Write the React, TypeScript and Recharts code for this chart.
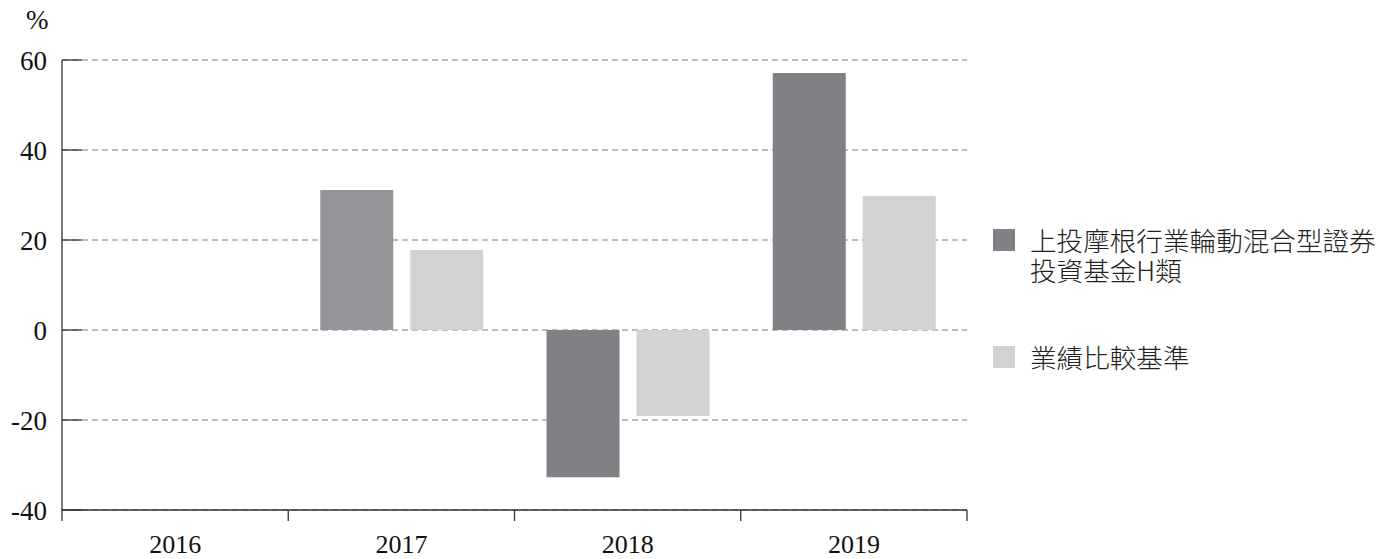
import React from 'react';
import {
  BarChart,
  Bar,
  Cell,
  XAxis,
  YAxis,
  CartesianGrid,
  Legend,
} from 'recharts';

const years = ['2016', '2017', '2018', '2019'];
const fundReturns = [null, 31.1, -32.7, 57.1];
const benchmarkReturns = [null, 17.8, -19.1, 29.8];
const yTicks = [-40, -20, 0, 20, 40, 60];

const FUND_NAME = '上投摩根行業輪動混合型證券投資基金H類';
const BENCH_NAME = '業績比較基準';

const W = 1391;
const H = 559;
const PLOT_LEFT = 62;
const PLOT_TOP = 60;
const PLOT_RIGHT = 967;
const PLOT_BOTTOM = 510;
const BAND = (PLOT_RIGHT - PLOT_LEFT) / years.length;

const FUND_COLOR = '#808184';
const FUND_COLOR_2017 = '#939598';
const BENCH_COLOR = '#d1d2d4';
const AXIS_COLOR = '#333';
const SERIF = '"Liberation Serif", "Times New Roman", serif';
const SANS = '"Noto Sans CJK TC", "Noto Sans", sans-serif';

const data = years.map((year, i) => ({
  year,
  fund: fundReturns[i],
  bench: benchmarkReturns[i],
}));

const YTick = (props: any) => {
  const { y, payload } = props;
  return (
    <g>
      <line x1={PLOT_LEFT} x2={PLOT_LEFT + 20} y1={y} y2={y} stroke={AXIS_COLOR} strokeWidth={1.3} />
      <text x={47} y={y} dy={10} textAnchor="end" fontFamily={SERIF} fontSize={27} fill="#111">
        {payload.value}
      </text>
    </g>
  );
};

const XTick = (props: any) => {
  const { x, payload } = props;
  const half = BAND / 2;
  const last = payload.value === years[years.length - 1];
  return (
    <g>
      <line x1={x - half} x2={x - half} y1={PLOT_BOTTOM} y2={PLOT_BOTTOM + 11} stroke={AXIS_COLOR} strokeWidth={1.3} />
      {last && (
        <line x1={x + half} x2={x + half} y1={PLOT_BOTTOM} y2={PLOT_BOTTOM + 11} stroke={AXIS_COLOR} strokeWidth={1.3} />
      )}
      <text x={x} y={553} textAnchor="middle" fontFamily={SERIF} fontSize={26} fill="#111">
        {payload.value}
      </text>
    </g>
  );
};

const renderLegend = (props: any) => {
  const { payload } = props;
  return (
    <div style={{ fontFamily: SANS, fontSize: 26.6, fontWeight: 300, color: '#222', lineHeight: '30px' }}>
      {payload.map((entry: any, i: number) => (
        <div key={i} style={{ display: 'flex', alignItems: 'flex-start', marginBottom: i === 0 ? 57 : 0 }}>
          <div style={{ width: 22, height: 22, marginTop: 4, background: entry.color, flexShrink: 0 }} />
          <div style={{ marginLeft: 15, width: 355, textAlign: 'left' }}>{entry.value}</div>
        </div>
      ))}
    </div>
  );
};

export default function App() {
  return (
    <div style={{ position: 'absolute', left: 0, top: 0, width: W, height: H, background: '#fff' }}>
      <div style={{ position: 'absolute', left: 26, top: 5, fontFamily: SERIF, fontSize: 27, color: '#111' }}>%</div>
      <BarChart
        width={W}
        height={H}
        data={data}
        margin={{ top: PLOT_TOP, left: 0, right: W - PLOT_RIGHT, bottom: 0 }}
        barSize={73}
        barGap={17}
      >
        <CartesianGrid vertical={false} stroke="#7a7a7a" strokeDasharray="6 4" />
        <XAxis
          dataKey="year"
          height={H - PLOT_BOTTOM}
          axisLine={{ stroke: AXIS_COLOR, strokeWidth: 1.3 }}
          tickLine={false}
          tick={<XTick />}
          interval={0}
        />
        <YAxis
          width={PLOT_LEFT}
          domain={[-40, 60]}
          ticks={yTicks}
          allowDataOverflow
          axisLine={{ stroke: AXIS_COLOR, strokeWidth: 1.3 }}
          tickLine={false}
          tick={<YTick />}
          interval={0}
        />
        <Legend
          layout="vertical"
          align="center"
          verticalAlign="middle"
          content={renderLegend}
          wrapperStyle={{ left: 993, top: 225, width: 400 }}
        />
        <Bar dataKey="fund" name={FUND_NAME} fill={FUND_COLOR} isAnimationActive={false}>
          {years.map((year) => (
            <Cell key={year} fill={year === '2017' ? FUND_COLOR_2017 : FUND_COLOR} />
          ))}
        </Bar>
        <Bar dataKey="bench" name={BENCH_NAME} fill={BENCH_COLOR} isAnimationActive={false} />
      </BarChart>
    </div>
  );
}
